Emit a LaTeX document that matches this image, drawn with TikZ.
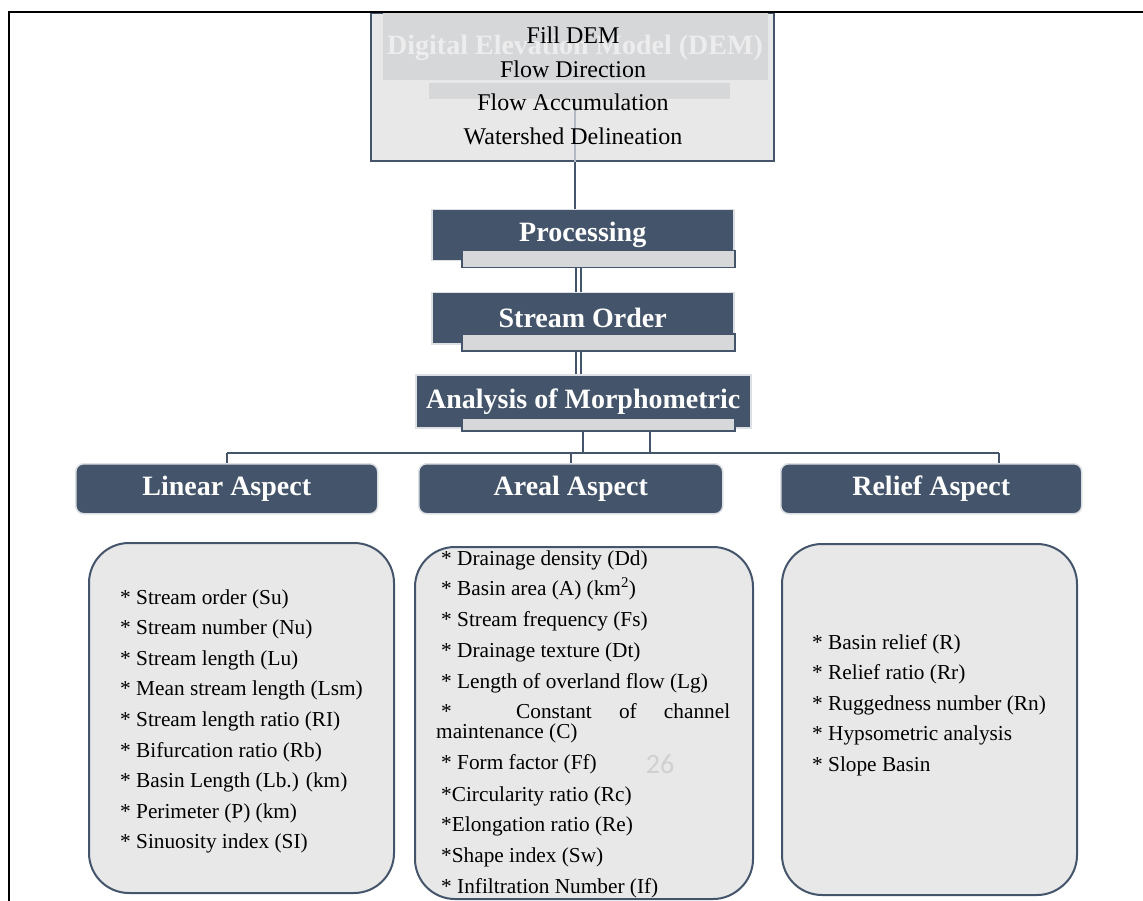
\documentclass[tikz,border=0pt]{standalone}
\usepackage{fontspec}
\setmainfont{Liberation Serif}
\newfontfamily\carl{Carlito}
\definecolor{hd}{HTML}{44546A}
\definecolor{hdedge}{HTML}{DCDFE3}
\definecolor{barc}{HTML}{D7D8DA}
\definecolor{boxc}{HTML}{E8E8E8}
\definecolor{demgray}{HTML}{D6D7D9}
\definecolor{titlec}{HTML}{EDEDEE}
\definecolor{faintc}{HTML}{B3BAC4}
\definecolor{numc}{HTML}{D0D0D0}
\begin{document}
\begin{tikzpicture}[x=1pt,y=-1pt,
  head/.style={fill=hd, draw=hdedge, line width=1.5pt, text=white,
    font=\fontsize{28}{32}\selectfont\bfseries, inner sep=0pt, anchor=north west},
  barbox/.style={fill=barc, draw=hd, line width=1.5pt, inner sep=0pt, anchor=north west},
  asp/.style={head, rounded corners=8pt},
  listbox/.style={fill=boxc, draw=hd, line width=2pt, rounded corners=40pt, inner sep=0pt, anchor=north west},
  conn/.style={draw=hd, line width=2pt},
  dbl/.style={draw=hd, line width=2.2pt, double=white, double distance=3.5pt},
  item/.style={anchor=base west, inner sep=0pt, font=\fontsize{21.3}{25}\selectfont},
  demtxt/.style={anchor=base, inner sep=0pt, font=\fontsize{24}{28}\selectfont}]
\useasboundingbox (0,0) rectangle (1143,901);

% DEM box
\node[draw=hd, fill=boxc, line width=2pt, minimum width=403pt, minimum height=148pt,
  anchor=north west, inner sep=0pt] (dem) at (370,12) {};
\node[fill=demgray, minimum width=385pt, minimum height=68pt, anchor=north west, inner sep=0pt] (demin) at (383,12) {};
\node[fill=demgray, minimum width=301pt, minimum height=16pt, anchor=north west, inner sep=0pt] (demb) at (429,83) {};
\node[anchor=base, inner sep=0pt, text=titlec, font=\fontsize{28}{32}\selectfont\bfseries] (demtitle) at (575,55) {Digital Elevation Model (DEM)};
\coordinate (c1) at (575,0);
\draw[faintc, line width=1.5pt] (demb.south -| c1) -- (dem.south -| c1);
\node[demtxt] (t1) at (573,44) {Fill DEM};
\node[demtxt] (t2) at (573,78) {Flow Direction};
\node[demtxt] (t3) at (573,111) {Flow Accumulation};
\node[demtxt] (t4) at (573,145) {Watershed Delineation};

% frame
\draw[black, line width=2.2pt] (1143,12) -- (9,12) -- (9,901);

% processing chain
\node[head, minimum width=302pt, minimum height=51pt] (proc) at (431,209) {Processing};
\node[barbox, minimum width=273pt, minimum height=17pt] (pbar) at (461,250) {};
\node[head, minimum width=302pt, minimum height=51pt] (so) at (431,292) {Stream Order};
\node[barbox, minimum width=273pt, minimum height=17pt] (sbar) at (461,333) {};
\node[head, minimum width=335pt, minimum height=53pt] (an) at (415,374) {Analysis of Morphometric};
\node[barbox, minimum width=273pt, minimum height=13pt] (abar) at (461,417) {};

\draw[conn] (dem.south -| c1) -- (proc.north -| c1);
\coordinate (c2) at (578.5,0);
\draw[dbl] (pbar.south -| c2) -- (so.north -| c2);
\draw[dbl] (sbar.south -| c2) -- (an.north -| c2);

% aspects
\node[asp, minimum width=302pt, minimum height=50pt] (linh) at (75,463) {Linear Aspect};
\node[asp, minimum width=304pt, minimum height=50pt] (arh) at (418,463) {Areal Aspect};
\node[asp, minimum width=301pt, minimum height=50pt] (relh) at (780,463) {Relief Aspect};

\coordinate (j1) at (583,453);
\coordinate (j2) at (650,453);
\coordinate (j3) at (999,453);
\draw[conn] (abar.south -| j1) -- (j1);
\draw[conn] (abar.south -| j2) -- (j2);
\draw[conn] (linh.north |- j1) -- (j3);
\draw[conn] (linh.north |- j1) -- (linh.north);
\draw[conn] (arh.north |- j1) -- (arh.north);
\draw[conn] (j3) -- (relh.north -| j3);

% list boxes
\node[listbox, minimum width=305pt, minimum height=350pt] (linb) at (88,542) {};
\node[listbox, minimum width=338pt, minimum height=352pt] (arb) at (414,546) {};
\node[listbox, minimum width=295pt, minimum height=351pt] (relb) at (781,543) {};

\foreach \t [count=\i] in {{* Stream order (Su)},{* Stream number (Nu)},{* Stream length (Lu)},
  {* Mean stream length (Lsm)},{* Stream length ratio (RI)},{* Bifurcation ratio (Rb)},
  {* Basin Length (Lb.) (km)},{* Perimeter (P) (km)},{* Sinuosity index (SI)}}
  {\node[item] (lin\i) at (120,{604+30.6*(\i-1)}) {\t};}

\node[item] (ar1) at (441,565) {* Drainage density (Dd)};
\node[item] (ar2) at (441,595) {* Basin area (A) (km\textsuperscript{2})};
\node[item] (ar3) at (441,626) {* Stream frequency (Fs)};
\node[item] (ar4) at (441,657) {* Drainage texture (Dt)};
\node[item] (ar5) at (441,688) {* Length of overland flow (Lg)};
\node[item] (ar6) at (441,718) {\makebox[289pt][s]{* \hspace{10pt} Constant of channel}};
\node[item] (ar7) at (436,738) {maintenance (C)};
\node[item] (ar8) at (441,769) {* Form factor (Ff)};
\node[item] (ar9) at (441,801) {*Circularity ratio (Rc)};
\node[item] (ar10) at (441,831) {*Elongation ratio (Re)};
\node[item] (ar11) at (441,862) {*Shape index (Sw)};
\node[item] (ar12) at (441,893) {* Infiltration Number (If)};
\node[inner sep=0pt, text=numc, font=\carl\fontsize{28}{32}\selectfont] (pnum) at (660,764) {26};

\foreach \t [count=\i] in {{* Basin relief (R)},{* Relief ratio (Rr)},{* Ruggedness number (Rn)},
  {* Hypsometric analysis},{* Slope Basin}}
  {\node[item] (rel\i) at (812,{649+30.5*(\i-1)}) {\t};}
\end{tikzpicture}
\end{document}
